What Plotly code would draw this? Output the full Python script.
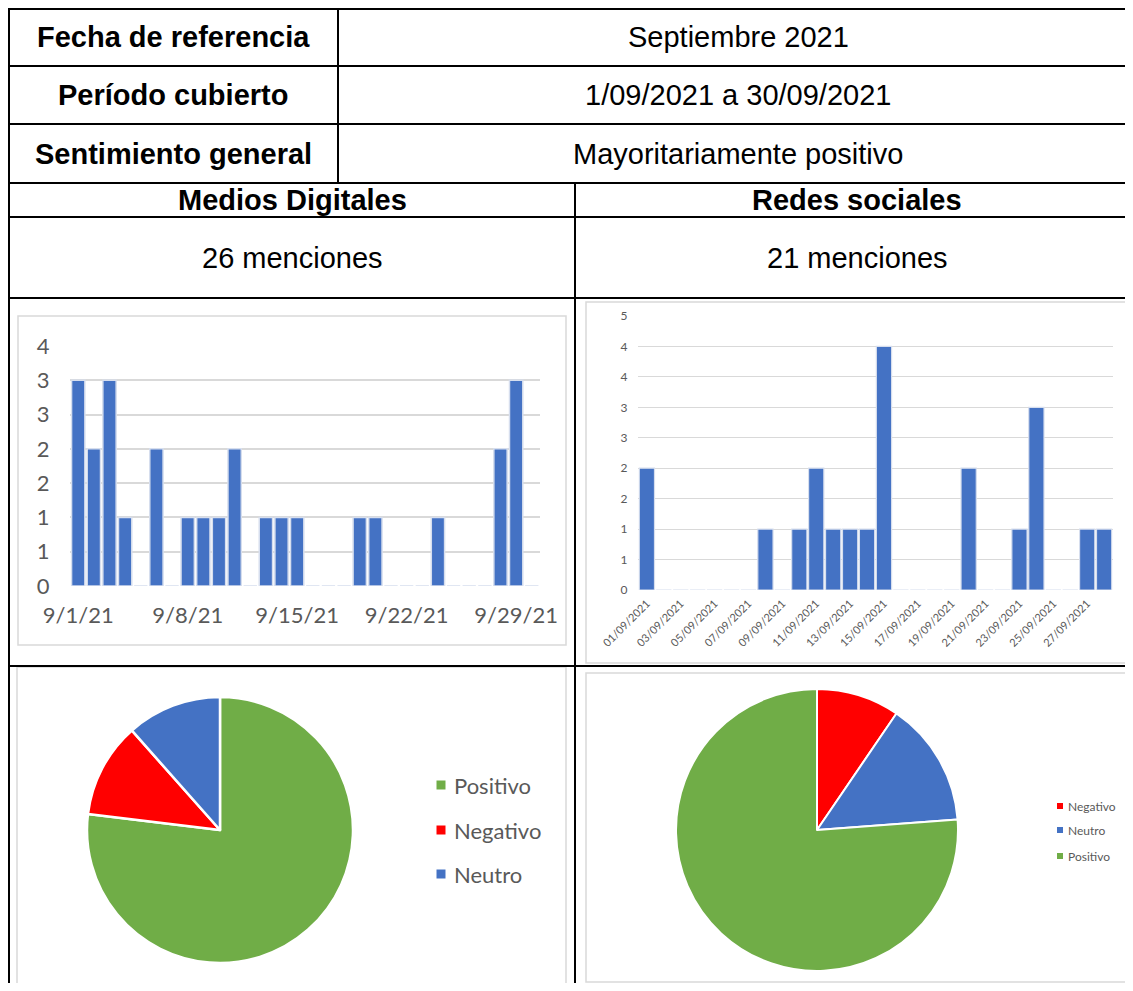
import plotly.graph_objects as go

# ---------------- data ----------------
header_labels = ["Fecha de referencia", "Período cubierto", "Sentimiento general"]
header_values = ["Septiembre 2021", "1/09/2021 a 30/09/2021", "Mayoritariamente positivo"]
section_titles = ["Medios Digitales", "Redes sociales"]
section_counts = ["26 menciones", "21 menciones"]

digital_dates = [f"9/{d}/21" for d in range(1, 31)]
digital_counts = [3, 2, 3, 1, 0, 2, 0, 1, 1, 1, 2, 0, 1, 1, 1,
                  0, 0, 0, 1, 1, 0, 0, 0, 1, 0, 0, 0, 2, 3, 0]
digital_xticks = ["9/1/21", "9/8/21", "9/15/21", "9/22/21", "9/29/21"]
digital_yticks = [0, 0.5, 1, 1.5, 2, 2.5, 3, 3.5]
digital_yticktext = ["0", "1", "1", "2", "2", "3", "3", "4"]

social_dates = [f"{d:02d}/09/2021" for d in range(1, 29)]
social_counts = [2, 0, 0, 0, 0, 0, 0, 1, 0, 1, 2, 1, 1, 1, 4,
                 0, 0, 0, 0, 2, 0, 0, 1, 3, 0, 0, 1, 1]
social_xticks = social_dates[::2]
social_yticks = [0, 0.5, 1, 1.5, 2, 2.5, 3, 3.5, 4, 4.5]
social_yticktext = ["0", "1", "1", "2", "2", "3", "3", "4", "4", "5"]

digital_sent_labels = ["Positivo", "Negativo", "Neutro"]
digital_sent_values = [20, 3, 3]
social_sent_labels = ["Negativo", "Neutro", "Positivo"]
social_sent_values = [2, 3, 16]

sent_colors = {"Positivo": "#70AD47", "Negativo": "#FF0000", "Neutro": "#4472C4"}
BAR_COLOR = "#4472C4"
GRID = "#D9D9D9"
AXIS_TEXT = "#595959"

# ---------------- geometry helpers (page px -> paper) ----------------
OFF = 8
W, H = 1125, 975


def X(px):
    return (px - OFF) / W


def Y(py):
    return 1 - (py - OFF) / H


fig = go.Figure()

# ---------------- bar charts ----------------
fig.add_trace(go.Bar(
    x=digital_dates, y=digital_counts, width=0.85,
    marker=dict(color=BAR_COLOR, line=dict(color="#D6DEEE", width=1.5)),
    xaxis="x", yaxis="y", hoverinfo="x+y"))

fig.add_trace(go.Bar(
    x=social_dates, y=social_counts, width=0.9,
    marker=dict(color=BAR_COLOR, line=dict(color="#D6DEEE", width=1.2)),
    xaxis="x2", yaxis="y2", hoverinfo="x+y"))

# ---------------- pies ----------------
fig.add_trace(go.Pie(
    labels=digital_sent_labels, values=digital_sent_values,
    marker=dict(colors=[sent_colors[l] for l in digital_sent_labels],
                line=dict(color="white", width=2.5)),
    sort=False, direction="clockwise", rotation=0, textinfo="none",
    domain=dict(x=[X(87), X(353)], y=[Y(963), Y(697)])))

fig.add_trace(go.Pie(
    labels=social_sent_labels, values=social_sent_values,
    marker=dict(colors=[sent_colors[l] for l in social_sent_labels],
                line=dict(color="white", width=2)),
    sort=False, direction="clockwise", rotation=0, textinfo="none",
    domain=dict(x=[X(676), X(958)], y=[Y(971), Y(689)])))

shapes = []
annotations = []


def hline(y, x0, x1, color="black", width=2):
    shapes.append(dict(type="line", xref="paper", yref="paper",
                       x0=X(x0), x1=X(x1), y0=Y(y), y1=Y(y),
                       line=dict(color=color, width=width)))


def vline(x, y0, y1, color="black", width=2):
    shapes.append(dict(type="line", xref="paper", yref="paper",
                       x0=X(x), x1=X(x), y0=Y(y0), y1=Y(y1),
                       line=dict(color=color, width=width)))


def box(x0, y0, x1, y1, color=GRID, width=1.5):
    shapes.append(dict(type="rect", xref="paper", yref="paper",
                       x0=X(x0), x1=X(x1), y0=Y(y1), y1=Y(y0),
                       line=dict(color=color, width=width),
                       fillcolor="rgba(0,0,0,0)", layer="below"))


# chart-area frames
box(18, 316, 566, 645)
box(586, 302, 1131, 663)
box(17, 667, 566, 1000)
box(586, 673, 1131, 982)

# table grid
for yy in [9, 66, 124, 183, 217, 298, 666]:
    hline(yy, 8, 1140)
vline(9, 8, 1000)
vline(338, 8, 183)
vline(575, 183, 1000)

TABLE_FONT = "Liberation Sans, Arial, sans-serif"
row_centers = [37, 95, 154]
for lab, val, cy in zip(header_labels, header_values, row_centers):
    annotations.append(dict(text=f"<b>{lab}</b>", x=X(173), y=Y(cy),
                            xref="paper", yref="paper", showarrow=False,
                            xanchor="center", yanchor="middle",
                            font=dict(family=TABLE_FONT, size=29, color="black")))
    annotations.append(dict(text=val, x=X(738), y=Y(cy),
                            xref="paper", yref="paper", showarrow=False,
                            xanchor="center", yanchor="middle",
                            font=dict(family=TABLE_FONT, size=29, color="black")))

for title, count, cx in zip(section_titles, section_counts, [292, 857]):
    annotations.append(dict(text=f"<b>{title}</b>", x=X(cx), y=Y(200),
                            xref="paper", yref="paper", showarrow=False,
                            xanchor="center", yanchor="middle",
                            font=dict(family=TABLE_FONT, size=29, color="black")))
    annotations.append(dict(text=count, x=X(cx), y=Y(258),
                            xref="paper", yref="paper", showarrow=False,
                            xanchor="center", yanchor="middle",
                            font=dict(family=TABLE_FONT, size=29, color="black")))

# manual legends
CHART_FONT = "Lato, Open Sans, sans-serif"
for lab, cy in zip(digital_sent_labels, [785, 830, 874]):
    shapes.append(dict(type="rect", xref="paper", yref="paper",
                       x0=X(436.5), x1=X(445.5), y0=Y(cy + 4.5), y1=Y(cy - 4.5),
                       fillcolor=sent_colors[lab], line=dict(width=0)))
    annotations.append(dict(text=lab, x=X(452), y=Y(cy), xref="paper", yref="paper",
                            showarrow=False, xanchor="left", yanchor="middle",
                            font=dict(family=CHART_FONT, size=22, color=AXIS_TEXT)))

for lab, cy in zip(social_sent_labels, [806, 830, 856]):
    shapes.append(dict(type="rect", xref="paper", yref="paper",
                       x0=X(1057), x1=X(1063), y0=Y(cy + 3), y1=Y(cy - 3),
                       fillcolor=sent_colors[lab], line=dict(width=0)))
    annotations.append(dict(text=lab, x=X(1066), y=Y(cy), xref="paper", yref="paper",
                            showarrow=False, xanchor="left", yanchor="middle",
                            font=dict(family=CHART_FONT, size=12, color=AXIS_TEXT)))

fig.update_layout(
    width=W, height=H,
    margin=dict(l=0, r=0, t=0, b=0, pad=0, autoexpand=False),
    paper_bgcolor="white", plot_bgcolor="rgba(0,0,0,0)",
    showlegend=False,
    shapes=shapes, annotations=annotations,
    xaxis=dict(domain=[X(70.4), X(539.6)], anchor="y", type="category",
               categoryorder="array", categoryarray=digital_dates,
               range=[-0.5, 29.5], tickmode="array", tickvals=digital_xticks,
               showgrid=False, showline=False, zeroline=False, ticks="",
               ticklabelstandoff=14, automargin=False,
               tickfont=dict(family=CHART_FONT, size=22, color=AXIS_TEXT)),
    yaxis=dict(domain=[Y(586), Y(346)], anchor="x", range=[0, 3.5],
               tickmode="array", tickvals=digital_yticks, ticktext=digital_yticktext,
               showgrid=True, gridcolor=GRID, gridwidth=1.5, zeroline=False,
               ticks="", ticklabelstandoff=20, automargin=False,
               tickfont=dict(family=CHART_FONT, size=22, color=AXIS_TEXT)),
    xaxis2=dict(domain=[X(638.4), X(1112.6)], anchor="y2", type="category",
                categoryorder="array", categoryarray=social_dates,
                range=[-0.5, 27.5], tickmode="array", tickvals=social_xticks,
                tickangle=-45, showgrid=False, showline=False, zeroline=False,
                ticks="", ticklabelstandoff=4, automargin=False,
                tickfont=dict(family=CHART_FONT, size=11, color=AXIS_TEXT)),
    yaxis2=dict(domain=[Y(590), Y(316)], anchor="x2", range=[0, 4.5],
                tickmode="array", tickvals=social_yticks, ticktext=social_yticktext,
                showgrid=True, gridcolor=GRID, gridwidth=1, zeroline=False,
                ticks="", ticklabelstandoff=10, automargin=False,
                tickfont=dict(family=CHART_FONT, size=12, color=AXIS_TEXT)),
)

fig.write_html("out.html")
